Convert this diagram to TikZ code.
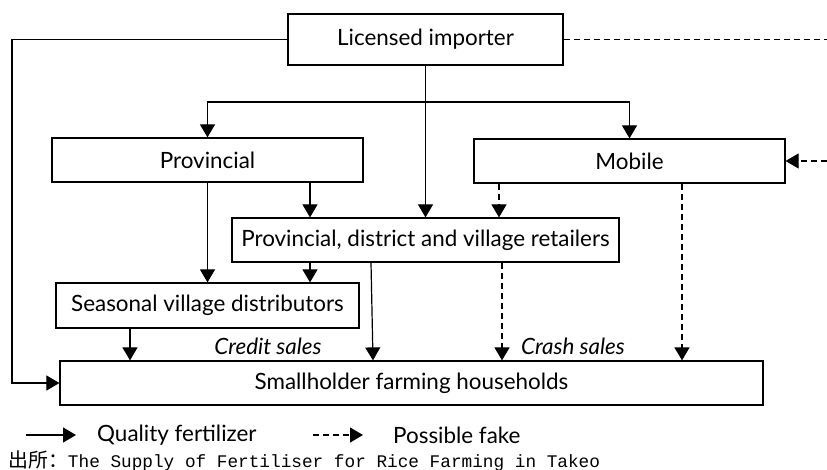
\documentclass[tikz,border=0pt]{standalone}
\usepackage{fontspec}
\setmainfont{Lato}
\newfontfamily\cjkfont{Noto Sans CJK SC}
\newfontfamily\srcmono{Liberation Mono}
\usetikzlibrary{arrows.meta}
\begin{document}
\begin{tikzpicture}[x=1bp,y=-1bp,
  txt/.style={font=\fontsize{22.5}{26}\selectfont},
  box/.style={draw,line width=1.2bp,rectangle,inner sep=0pt,txt},
  arr/.style={line width=1.2bp,-{Triangle[length=13bp,width=15bp]}},
  fake/.style={arr,dash pattern=on 6bp off 4bp},
  lbl/.style={font=\fontsize{22.5}{26}\selectfont\itshape,inner sep=0pt}]
\useasboundingbox (0,0) rectangle (827,470);

% organisations
\node[box,minimum width=275bp,minimum height=51bp] (imp) at (425.5,39.5) {Licensed importer};
\node[box,minimum width=311bp,minimum height=44bp] (prov) at (207.5,160) {Provincial};
\node[box,minimum width=311bp,minimum height=44bp] (mob) at (629.5,161) {Mobile};
\node[box,minimum width=387bp,minimum height=44bp] (ret) at (425.5,240) {Provincial, district and village retailers};
\node[box,minimum width=303bp,minimum height=45bp] (sea) at (207.5,305.5) {Seasonal village distributors};
\node[box,minimum width=703bp,minimum height=44bp] (farm) at (411.5,383) {Smallholder farming households};

% helper columns and free ends
\coordinate (br) at (425.5,102);
\coordinate (cL) at (12,0);
\coordinate (cR) at (827,0);
\coordinate (c130) at (130,0);
\coordinate (c310) at (310,0);
\coordinate (c371) at (371,0);
\coordinate (c373) at (373,0);
\coordinate (c499) at (499,0);
\coordinate (c502) at (502,0);
\coordinate (c682) at (682,0);

% quality fertilizer flows
\draw[arr] (imp.south) -- (ret.north);
\draw[arr] (br) -| (prov.north);
\draw[arr] (br) -| (mob.north);
\draw[arr] (imp.west) -| (cL |- farm.west) -- (farm.west);
\draw[arr] (prov.south) -- (sea.north);
\draw[arr] (prov.south -| c310) -- (ret.north -| c310);
\draw[arr] (ret.south -| c310) -- (sea.north -| c310);
\draw[arr] (sea.south -| c130) -- (farm.north -| c130);
\draw[arr] (ret.south -| c371) -- (farm.north -| c373);

% possibly fake flows
\draw[fake,-] (imp.east) -- (cR |- imp.east);
\draw[fake] (cR |- mob.east) -- (mob.east);
\draw[fake] (mob.south -| c499) -- (ret.north -| c499);
\draw[fake] (ret.south -| c502) -- (farm.north -| c502);
\draw[fake] (mob.south -| c682) -- (farm.north -| c682);

% sales labels
\node[lbl] (credit) at (268,346) {Credit sales};
\node[lbl] (crash) at (573,346) {Crash sales};

% legend
\coordinate (qa) at (26,435);
\coordinate (qb) at (76,435);
\coordinate (fa) at (313,435);
\coordinate (fb) at (363,435);
\draw[arr] (qa) -- (qb);
\draw[fake] (fa) -- (fb);
\node[anchor=west,inner sep=0pt,txt] (qtxt) at (97,435) {Quality fertilizer};
\node[anchor=west,inner sep=0pt,txt] (ftxt) at (393,435) {Possible fake};

% source
\node[anchor=west,inner sep=0pt] (src) at (8,461) {{\cjkfont\fontsize{20}{22}\selectfont 出所：}{\srcmono\fontsize{17.8}{20}\selectfont The Supply of Fertiliser for Rice Farming in Takeo}};
\end{tikzpicture}
\end{document}
